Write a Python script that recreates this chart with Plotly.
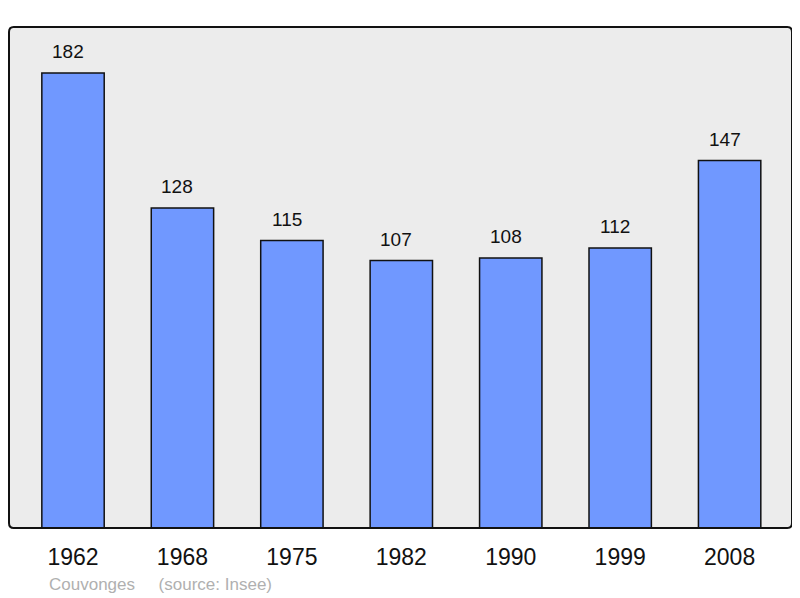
import plotly.graph_objects as go

years = ["1962", "1968", "1975", "1982", "1990", "1999", "2008"]
population = [182, 128, 115, 107, 108, 112, 147]
commune = "Couvonges"
source = "(source: Insee)"

FONT = "Liberation Sans, Arial, sans-serif"

fig = go.Figure()
fig.add_trace(go.Bar(
    x=list(range(len(years))), y=population, width=0.57,
    marker=dict(color="#7098ff", line=dict(color="#111111", width=1.5)),
    hoverinfo="skip",
))

for i, v in enumerate(population):
    fig.add_annotation(x=i, y=v, text=str(v), showarrow=False, yanchor="bottom",
                       yshift=9, xshift=-5, font=dict(family=FONT, size=19, color="#111111"))

fig.add_annotation(xref="paper", yref="paper", x=0, y=0, xanchor="left", yanchor="middle",
                   xshift=38, yshift=-56,
                   text=commune + "     " + source, showarrow=False,
                   font=dict(family=FONT, size=17, color="#b0b0b0"))

# rounded frame
fig.add_shape(type="path", xref="paper", yref="paper",
              path="M 0.006,0 L 0.994,0 Q 1,0 1,0.01 L 1,0.99 Q 1,1 0.994,1 L 0.006,1 Q 0,1 0,0.99 L 0,0.01 Q 0,0 0.006,0 Z",
              line=dict(color="#111111", width=2), layer="above")

# page body has an 8px margin, so the figure is 792x590 to fill 800x598
fig.update_layout(
    width=792, height=590,
    margin=dict(l=1, r=8, t=19, b=70),
    paper_bgcolor="white", plot_bgcolor="#ececec",
    showlegend=False,
    font=dict(family=FONT),
    xaxis=dict(range=[-0.585, 6.57], tickmode="array", tickvals=list(range(len(years))),
               ticktext=years, showgrid=False, zeroline=False, showline=False, ticks="",
               ticklabelstandoff=13,
               tickfont=dict(size=23, color="#111111"), fixedrange=True),
    yaxis=dict(range=[0, 200.4], showgrid=False, zeroline=False, showline=False,
               showticklabels=False, ticks="", fixedrange=True),
)

fig.write_html("out.html")
